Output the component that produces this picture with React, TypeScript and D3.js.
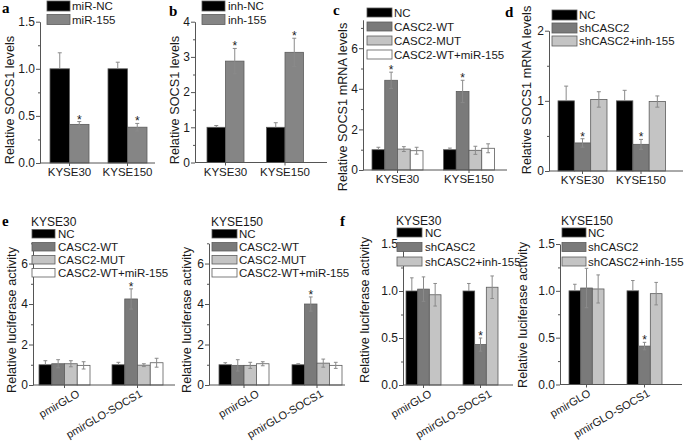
import React, { useEffect, useRef } from "react";
import * as d3 from "d3";

const FONT = "Arial, 'Liberation Sans', Helvetica, sans-serif";

// ---------- data ----------
const catsKYSE = ["KYSE30", "KYSE150"];
const catsPmir = ["pmirGLO", "pmirGLO-SOCS1"];

const aSeries = ["miR-NC", "miR-155"];
const aMeans = [[1.0, 0.41], [1.0, 0.38]];
const aErrs = [[0.17, 0.03], [0.07, 0.04]];
const aStars = [[0, 1], [0, 1]];

const bSeries = ["inh-NC", "inh-155"];
const bMeans = [[1.0, 2.88], [1.0, 3.13]];
const bErrs = [[0.05, 0.36], [0.13, 0.4]];
const bStars = [[0, 1], [0, 1]];

const cSeries = ["NC", "CASC2-WT", "CASC2-MUT", "CASC2-WT+miR-155"];
const cMeans = [[1.0, 4.42, 1.03, 0.95], [1.0, 3.87, 0.97, 1.07]];
const cErrs = [[0.12, 0.4, 0.12, 0.17], [0.08, 0.55, 0.2, 0.22]];
const cStars = [[0, 1, 0, 0], [0, 1, 0, 0]];

const dSeries = ["NC", "shCASC2", "shCASC2+inh-155"];
const dMeans = [[1.0, 0.4, 1.02], [1.0, 0.38, 0.99]];
const dErrs = [[0.21, 0.06, 0.11], [0.15, 0.07, 0.08]];
const dStars = [[0, 1, 0], [0, 1, 0]];

const e1Means = [[1.0, 1.05, 1.05, 0.97], [1.0, 4.25, 0.98, 1.1]];
const e1Errs = [[0.2, 0.2, 0.15, 0.18], [0.12, 0.5, 0.07, 0.22]];
const e1Stars = [[0, 0, 0, 0], [0, 1, 0, 0]];

const e2Means = [[1.0, 0.97, 0.97, 1.05], [1.0, 4.0, 1.08, 0.97]];
const e2Errs = [[0.1, 0.28, 0.15, 0.1], [0.05, 0.35, 0.2, 0.15]];
const e2Stars = [[0, 0, 0, 0], [0, 1, 0, 0]];

const f1Means = [[1.0, 1.02, 0.96], [1.0, 0.43, 1.04]];
const f1Errs = [[0.14, 0.13, 0.12], [0.08, 0.07, 0.12]];
const f1Stars = [[0, 0, 0], [0, 1, 0]];

const f2Means = [[1.0, 1.03, 1.02], [1.0, 0.41, 0.97]];
const f2Errs = [[0.07, 0.21, 0.15], [0.11, 0.04, 0.12]];
const f2Stars = [[0, 0, 0], [0, 1, 0]];

const ticks15 = [0, 0.5, 1.0, 1.5];
const ticks4 = [0, 1, 2, 3, 4];
const ticks6 = [0, 2, 4, 6];
const ticks2 = [0, 1, 2];

// ---------- styles ----------
const BLACK = "#000000";
const DARK = "#7a7a7a";
const LIGHT = "#c4c4c4";
const WHITE = "#ffffff";
const DARK_AB = "#858585";

type Legend = { x: number; y: number; w: number; h: number; step: number; textX: number; title?: string; titleY?: number };
type Panel = {
  label: string; labelX: number; labelY: number;
  cats: string[]; series: string[]; colors: string[];
  means: number[][]; errs: number[][]; stars: number[][];
  domain: [number, number]; ticks: number[]; fmt: string; minor: number;
  axisX: number; axisEnd: number; y0: number; yTop: number;
  centers: [number, number]; groupW: number; rotate: boolean; rotDx?: [number, number];
  title: string; titleX: number; titleY: number;
  legend: Legend;
};

const panels: Panel[] = [
  {
    label: "a", labelX: 2, labelY: 13, cats: catsKYSE, series: aSeries, colors: [BLACK, DARK_AB],
    means: aMeans, errs: aErrs, stars: aStars, domain: [0, 1.5], ticks: ticks15, fmt: ".1f", minor: 0.25,
    axisX: 40, axisEnd: 155, y0: 163, yTop: 21.7, centers: [69.5, 127.5], groupW: 39, rotate: false,
    title: "Relative SOCS1 levels", titleX: 14, titleY: 100,
    legend: { x: 47, y: 1, w: 23, h: 10, step: 13.5, textX: 72 },
  },
  {
    label: "b", labelX: 169, labelY: 16, cats: catsKYSE, series: bSeries, colors: [BLACK, DARK_AB],
    means: bMeans, errs: bErrs, stars: bStars, domain: [0, 4], ticks: ticks4, fmt: "d", minor: 0.5,
    axisX: 195, axisEnd: 327, y0: 162.5, yTop: 21.7, centers: [225.5, 285], groupW: 37, rotate: false,
    title: "Relative SOCS1 levels", titleX: 179, titleY: 100,
    legend: { x: 202, y: 1, w: 23, h: 10, step: 13.5, textX: 228 },
  },
  {
    label: "c", labelX: 333, labelY: 15, cats: catsKYSE, series: cSeries, colors: [BLACK, DARK, LIGHT, WHITE],
    means: cMeans, errs: cErrs, stars: cStars, domain: [0, 7.4], ticks: ticks6, fmt: "d", minor: 1,
    axisX: 363, axisEnd: 507, y0: 170, yTop: 19.8, centers: [397.5, 469], groupW: 51, rotate: false,
    title: "Relative SOCS1 mRNA levels", titleX: 347, titleY: 107,
    legend: { x: 367, y: 8, w: 25, h: 9, step: 14, textX: 394 },
  },
  {
    label: "d", labelX: 505, labelY: 17, cats: catsKYSE, series: dSeries, colors: [BLACK, DARK, LIGHT],
    means: dMeans, errs: dErrs, stars: dStars, domain: [0, 2], ticks: ticks2, fmt: "d", minor: 0.5,
    axisX: 549, axisEnd: 683, y0: 171, yTop: 30.7, centers: [582.5, 641], groupW: 49, rotate: false,
    title: "Relative SOCS1 mRNA levels", titleX: 531, titleY: 90,
    legend: { x: 552, y: 10, w: 25, h: 10, step: 13, textX: 579 },
  },
  {
    label: "e", labelX: 2, labelY: 226, cats: catsPmir, series: cSeries, colors: [BLACK, DARK, LIGHT, WHITE],
    means: e1Means, errs: e1Errs, stars: e1Stars, domain: [0, 7], ticks: ticks6, fmt: "d", minor: 1,
    axisX: 33, axisEnd: 175, y0: 385, yTop: 243.3, centers: [64.5, 137.5], groupW: 51, rotate: true, rotDx: [16, 5.5],
    title: "Relative luciferase activity", titleX: 16, titleY: 320,
    legend: { x: 32, y: 229.5, w: 23, h: 8.5, step: 13, textX: 58, title: "KYSE30", titleY: 226 },
  },
  {
    label: "", labelX: 0, labelY: 0, cats: catsPmir, series: cSeries, colors: [BLACK, DARK, LIGHT, WHITE],
    means: e2Means, errs: e2Errs, stars: e2Stars, domain: [0, 7], ticks: ticks6, fmt: "d", minor: 1,
    axisX: 209, axisEnd: 345, y0: 385, yTop: 243.3, centers: [244, 317], groupW: 50, rotate: true, rotDx: [16, 7],
    title: "Relative luciferase activity", titleX: 191, titleY: 320,
    legend: { x: 212, y: 229.5, w: 25, h: 8.5, step: 13, textX: 239, title: "KYSE150", titleY: 226 },
  },
  {
    label: "f", labelX: 340, labelY: 226, cats: catsPmir, series: dSeries, colors: [BLACK, DARK, LIGHT],
    means: f1Means, errs: f1Errs, stars: f1Stars, domain: [0, 1.5], ticks: ticks15, fmt: ".1f", minor: 0.25,
    axisX: 403, axisEnd: 513, y0: 385, yTop: 244, centers: [423.5, 480.5], groupW: 35, rotate: true, rotDx: [9, 12],
    title: "Relative luciferase activity", titleX: 369, titleY: 310,
    legend: { x: 397, y: 228, w: 25, h: 9, step: 14.5, textX: 425, title: "KYSE30", titleY: 225 },
  },
  {
    label: "", labelX: 0, labelY: 0, cats: catsPmir, series: dSeries, colors: [BLACK, DARK, LIGHT],
    means: f2Means, errs: f2Errs, stars: f2Stars, domain: [0, 1.5], ticks: ticks15, fmt: ".1f", minor: 0.25,
    axisX: 560, axisEnd: 682, y0: 384.5, yTop: 244, centers: [586.5, 644.5], groupW: 35, rotate: true, rotDx: [5, 6],
    title: "Relative luciferase activity", titleX: 527, titleY: 315,
    legend: { x: 562, y: 228, w: 24, h: 9, step: 14.5, textX: 588, title: "KYSE150", titleY: 225 },
  },
];

const AXIS = "#555555";
const TXT = "#1a1a1a";
const ERR = "#8a8a8a";
const FS_TICK = 12;
const FS_XLAB = 11.5;
const FS_TITLE = 12.7;
const FS_LEG = 11.5;

function drawPanel(svg: d3.Selection<SVGSVGElement, unknown, null, undefined>, p: Panel) {
  const g = svg.append("g");
  const y = d3.scaleLinear().domain(p.domain).range([p.y0, p.yTop]);
  const xc = d3.scalePoint<string>().domain(p.cats).range(p.centers);
  const xs = d3.scaleBand<string>().domain(p.series).range([-p.groupW / 2, p.groupW / 2]).padding(0);
  const bw = xs.bandwidth();

  // bars
  p.cats.forEach((c, ci) => {
    p.series.forEach((s, si) => {
      const v = p.means[ci][si];
      const x0 = (xc(c) as number) + (xs(s) as number);
      g.append("rect")
        .attr("x", x0).attr("y", y(v)).attr("width", bw).attr("height", y(0) - y(v))
        .attr("fill", p.colors[si]).attr("stroke", "#5c5c5c").attr("stroke-width", 0.8);
    });
  });
  // error bars & stars
  p.cats.forEach((c, ci) => {
    p.series.forEach((s, si) => {
      const v = p.means[ci][si];
      const e = p.errs[ci][si];
      const cx = (xc(c) as number) + (xs(s) as number) + bw / 2;
      const lo = p.colors[si] === BLACK ? v : v - e;
      const hi = v + e;
      const cap = Math.min(4, bw * 0.3);
      g.append("line").attr("x1", cx).attr("x2", cx).attr("y1", y(hi)).attr("y2", y(lo))
        .attr("stroke", ERR).attr("stroke-width", 1);
      g.append("line").attr("x1", cx - cap / 2).attr("x2", cx + cap / 2).attr("y1", y(hi)).attr("y2", y(hi))
        .attr("stroke", ERR).attr("stroke-width", 1);
      if (lo < v) {
        g.append("line").attr("x1", cx - cap / 2).attr("x2", cx + cap / 2).attr("y1", y(lo)).attr("y2", y(lo))
          .attr("stroke", ERR).attr("stroke-width", 1);
      }
      if (p.stars[ci][si]) {
        g.append("text").attr("x", cx).attr("y", y(hi) + 2).attr("text-anchor", "middle")
          .attr("font-family", FONT).attr("font-size", 12).attr("fill", TXT).text("*");
      }
    });
  });

  // y axis
  const minorVals = d3.range(p.domain[0], p.domain[1] + 1e-9, p.minor)
    .filter((v) => !p.ticks.some((t) => Math.abs(t - v) < 1e-9));
  const gm = g.append("g").attr("transform", `translate(${p.axisX},0)`)
    .call(d3.axisLeft(y).tickValues(minorVals).tickSize(2).tickSizeOuter(0).tickFormat(() => ""));
  gm.select(".domain").remove();
  gm.selectAll("line").attr("stroke", AXIS);
  const ga = g.append("g").attr("transform", `translate(${p.axisX},0)`)
    .call(d3.axisLeft(y).tickValues(p.ticks).tickSize(4).tickSizeOuter(0).tickPadding(1)
      .tickFormat((d) => d3.format(p.fmt)(d as number)));
  ga.select(".domain").attr("stroke", AXIS);
  ga.selectAll("line").attr("stroke", AXIS);
  ga.selectAll("text").attr("font-family", FONT).attr("font-size", FS_TICK).attr("fill", TXT);

  // x axis
  g.append("line").attr("x1", p.axisX).attr("x2", p.axisEnd).attr("y1", p.y0).attr("y2", p.y0)
    .attr("stroke", AXIS).attr("stroke-width", 1);
  p.cats.forEach((c, ci) => {
    const cx = xc(c) as number;
    g.append("line").attr("x1", cx).attr("x2", cx).attr("y1", p.y0).attr("y2", p.y0 + 3)
      .attr("stroke", AXIS).attr("stroke-width", 1);
    if (p.rotate) {
      const dx = p.rotDx ? p.rotDx[ci] : 10;
      g.append("text").attr("transform", `translate(${cx + dx},${p.y0 + 11}) rotate(-30)`)
        .attr("text-anchor", "end").attr("font-family", FONT).attr("font-size", 11)
        .attr("fill", TXT).text(c);
    } else {
      g.append("text").attr("x", cx).attr("y", p.y0 + 13).attr("text-anchor", "middle")
        .attr("font-family", FONT).attr("font-size", FS_XLAB).attr("fill", TXT).text(c);
    }
  });

  // y title
  g.append("text").attr("transform", `translate(${p.titleX},${p.titleY}) rotate(-90)`)
    .attr("text-anchor", "middle").attr("font-family", FONT).attr("font-size", FS_TITLE)
    .attr("fill", TXT).text(p.title);

  // legend
  const L = p.legend;
  if (L.title) {
    g.append("text").attr("x", L.x - 1).attr("y", L.titleY as number).attr("font-family", FONT)
      .attr("font-size", FS_LEG + 0.5).attr("fill", TXT).text(L.title);
  }
  p.series.forEach((s, si) => {
    const yy = L.y + si * L.step;
    g.append("rect").attr("x", L.x).attr("y", yy).attr("width", L.w).attr("height", L.h)
      .attr("fill", p.colors[si]).attr("stroke", "#5c5c5c").attr("stroke-width", 0.8);
    g.append("text").attr("x", L.textX).attr("y", yy + L.h / 2).attr("dy", "0.36em")
      .attr("font-family", FONT).attr("font-size", FS_LEG).attr("fill", TXT).text(s);
  });

  // panel label
  if (p.label) {
    g.append("text").attr("x", p.labelX).attr("y", p.labelY)
      .attr("font-family", "'Liberation Serif', 'DejaVu Serif', serif").attr("font-weight", "bold")
      .attr("font-size", 15).attr("fill", "#000").text(p.label);
  }
}

export default function App() {
  const ref = useRef<SVGSVGElement | null>(null);
  useEffect(() => {
    if (!ref.current) return;
    const svg = d3.select(ref.current);
    svg.selectAll("*").remove();
    svg.append("rect").attr("width", 685).attr("height", 442).attr("fill", "#fff");
    panels.forEach((p) => drawPanel(svg, p));
  }, []);
  return (
    <div style={{ position: "absolute", left: 0, top: 0 }}>
      <svg ref={ref} width={685} height={442} viewBox="0 0 685 442" />
    </div>
  );
}
